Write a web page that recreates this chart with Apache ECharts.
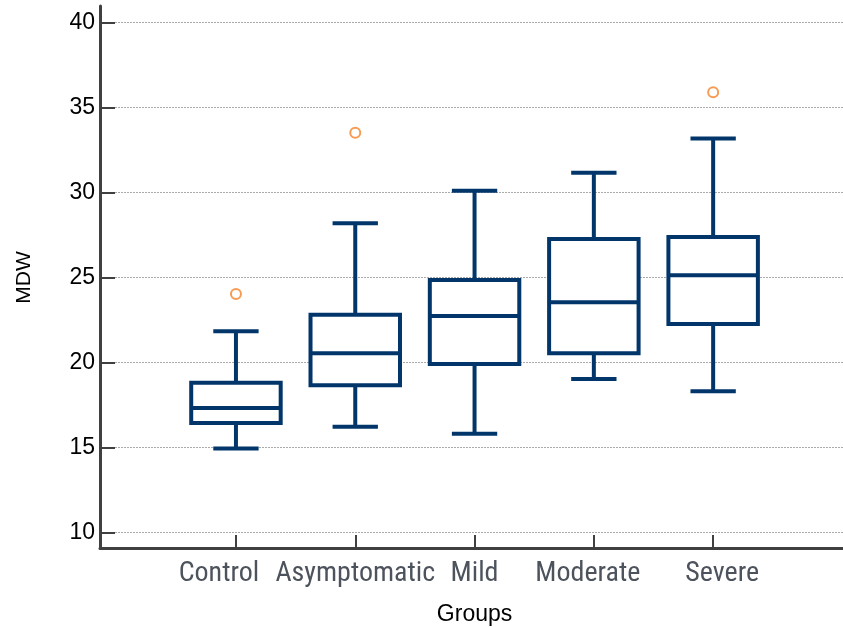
<!DOCTYPE html>
<html>
<head>
<meta charset="utf-8">
<script src="https://cdn.jsdelivr.net/npm/echarts@6/dist/echarts.min.js"></script>
<style>
  html, body { margin: 0; padding: 0; background: #fff; }
  #chart { width: 843px; height: 627px; }
</style>
</head>
<body>
<div id="chart"></div>
<script>
// MDW distribution per disease-severity group
const categories = ['Control', 'Asymptomatic', 'Mild', 'Moderate', 'Severe'];
const lowWhisker  = [14.94, 16.22, 15.80, 19.02, 18.30];
const q1          = [16.43, 18.65, 19.91, 20.54, 22.26];
const median      = [17.32, 20.54, 22.73, 23.55, 25.13];
const q3          = [18.81, 22.81, 24.85, 27.26, 27.38];
const highWhisker = [21.83, 28.20, 30.11, 31.17, 33.19];
// outliers as [group index, value]
const outliers = [[0, 24.03], [1, 33.52], [4, 35.91]];
const yTicks = { min: 10, max: 40, step: 5 };

const BOX_COLOR = '#02366b';
const AXIS_COLOR = '#404040';

const boxData = categories.map((c, i) =>
  [i, lowWhisker[i], q1[i], median[i], q3[i], highWhisker[i]]);

// nudges group labels sideways so neighbouring names do not collide
const labelShift = { Control: -17, Asymptomatic: 0, Mild: 0, Moderate: -6, Severe: 9 };
const labelRich = {};
categories.forEach((c, i) => {
  const s = labelShift[c];
  labelRich['g' + i] = {
    padding: s < 0 ? [0, -2 * s, 0, 0] : [0, 0, 0, 2 * s]
  };
});

function renderBox(params, api) {
  const i = api.value(0);
  const band = api.size([1, 0])[0];
  const boxHalf = band * 0.375;
  const capHalf = band * 0.19;
  const pLow = api.coord([i, api.value(1)]);
  const pQ1 = api.coord([i, api.value(2)]);
  const pMed = api.coord([i, api.value(3)]);
  const pQ3 = api.coord([i, api.value(4)]);
  const pHigh = api.coord([i, api.value(5)]);
  const cx = pMed[0];
  const stroke = { stroke: BOX_COLOR, lineWidth: 4, fill: null, lineCap: 'butt' };
  const line = (x1, y1, x2, y2) => ({
    type: 'line', shape: { x1, y1, x2, y2 }, style: stroke
  });
  return {
    type: 'group',
    children: [
      line(cx, pQ3[1], cx, pHigh[1]),
      line(cx, pQ1[1], cx, pLow[1]),
      line(cx - capHalf, pHigh[1], cx + capHalf, pHigh[1]),
      line(cx - capHalf, pLow[1], cx + capHalf, pLow[1]),
      {
        type: 'rect',
        shape: { x: cx - boxHalf, y: pQ3[1], width: boxHalf * 2, height: pQ1[1] - pQ3[1] },
        style: { fill: '#ffffff', stroke: BOX_COLOR, lineWidth: 4 }
      },
      line(cx - boxHalf, pMed[1], cx + boxHalf, pMed[1])
    ]
  };
}

const chart = echarts.init(document.getElementById('chart'), null, { renderer: 'canvas' });

const labelFont = "'Roboto Condensed', 'Liberation Sans Narrow', 'DejaVu Sans Condensed', Roboto, sans-serif";

chart.setOption({
  animation: false,
  backgroundColor: '#ffffff',
  grid: [
    // frame: the two long axis lines
    { left: 100, top: 6, right: 0, bottom: 79, outerBoundsMode: 'none' },
    // value scale, gridlines and y labels
    { left: 100, top: 22.7, right: 0, bottom: 94.7, outerBoundsMode: 'none' },
    // group bands
    { left: 176.3, top: 22.7, width: 596.5, bottom: 94.7, outerBoundsMode: 'none' }
  ],
  xAxis: [
    {
      gridIndex: 0, type: 'value', min: 0, max: 1,
      axisLine: { show: true, lineStyle: { color: AXIS_COLOR, width: 3 } },
      axisTick: { show: false }, axisLabel: { show: false }, splitLine: { show: false }
    },
    {
      gridIndex: 1, type: 'value', min: 0, max: 1, show: false
    },
    {
      gridIndex: 2, type: 'category', data: categories,
      offset: 15.7,
      axisLine: { show: false },
      axisTick: { show: true, inside: true, alignWithLabel: true, length: 13,
                  lineStyle: { color: AXIS_COLOR, width: 2 } },
      axisLabel: {
        color: '#4d535c', fontSize: 28, margin: 12, interval: 0, hideOverlap: false,
        fontFamily: labelFont,
        formatter: (value, idx) => '{g' + idx + '|' + value + '}',
        rich: labelRich
      },
      name: 'Groups', nameLocation: 'middle', nameGap: 55,
      nameTextStyle: { color: '#000', fontSize: 23, fontFamily: "'Liberation Sans', Arial, sans-serif" },
      splitLine: { show: false }
    }
  ],
  yAxis: [
    {
      gridIndex: 0, type: 'value', min: 0, max: 1,
      axisLine: { show: true, lineStyle: { color: AXIS_COLOR, width: 3 } },
      axisTick: { show: false }, axisLabel: { show: false }, splitLine: { show: false }
    },
    {
      gridIndex: 1, type: 'value', min: yTicks.min, max: yTicks.max, interval: yTicks.step,
      axisLine: { show: false },
      axisTick: { show: true, inside: true, length: 15, lineStyle: { color: AXIS_COLOR, width: 2 } },
      axisLabel: { color: '#000', fontSize: 23, margin: 5,
                   fontFamily: "'Liberation Sans', Arial, sans-serif" },
      splitLine: { show: true, lineStyle: { color: '#aaaaaa', width: 1, type: [2, 1] } },
      name: 'MDW', nameLocation: 'middle', nameGap: 65, nameRotate: 90,
      nameTextStyle: { color: '#000', fontSize: 21, fontFamily: "'Liberation Sans', Arial, sans-serif" }
    },
    {
      gridIndex: 2, type: 'value', min: yTicks.min, max: yTicks.max, show: false
    }
  ],
  series: [
    {
      type: 'custom',
      xAxisIndex: 2, yAxisIndex: 2,
      data: boxData,
      encode: { x: 0, y: [1, 2, 3, 4, 5] },
      renderItem: renderBox,
      z: 3
    },
    {
      type: 'scatter',
      xAxisIndex: 2, yAxisIndex: 2,
      data: outliers,
      symbol: 'emptyCircle',
      symbolSize: 10,
      itemStyle: { color: '#f5822a', borderWidth: 1.3 },
      z: 4
    }
  ]
});
</script>
</body>
</html>
